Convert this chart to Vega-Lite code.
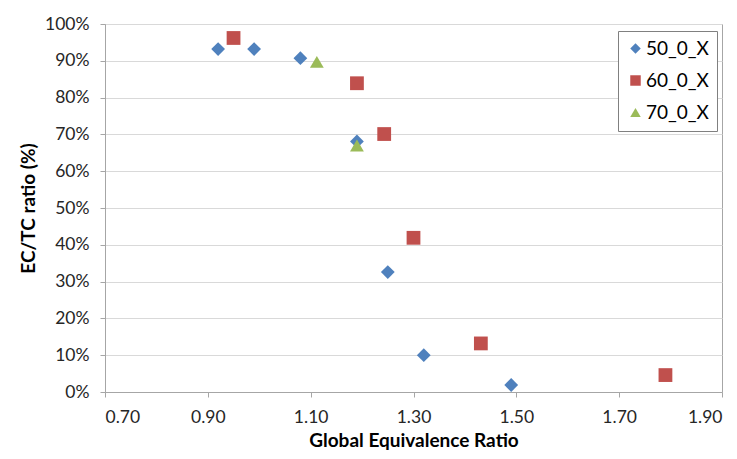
{
  "$schema": "https://vega.github.io/schema/vega-lite/v6.json",
  "width": 617,
  "height": 368,
  "autosize": {"type": "none"},
  "padding": {"left": 105, "top": 24, "right": 15, "bottom": 67},
  "background": "white",
  "config": {
    "font": "Lato",
    "view": {"stroke": "#A6A6A6", "strokeWidth": 1},
    "axis": {
      "labelFont": "Lato",
      "titleFont": "Lato",
      "labelFontSize": 17.5,
      "titleFontSize": 19,
      "titleFontWeight": "bold",
      "labelColor": "#262626",
      "titleColor": "#000000",
      "domainColor": "#A6A6A6",
      "tickColor": "#A6A6A6",
      "gridColor": "#D9D9D9",
      "tickSize": 5
    }
  },
  "data": {
    "values": [
      {"ratio": 0.92, "ectc": 0.932, "series": "50_0_X"},
      {"ratio": 0.99, "ectc": 0.932, "series": "50_0_X"},
      {"ratio": 1.08, "ectc": 0.907, "series": "50_0_X"},
      {"ratio": 1.19, "ectc": 0.681, "series": "50_0_X"},
      {"ratio": 1.25, "ectc": 0.326, "series": "50_0_X"},
      {"ratio": 1.32, "ectc": 0.100, "series": "50_0_X"},
      {"ratio": 1.49, "ectc": 0.019, "series": "50_0_X"},
      {"ratio": 0.95, "ectc": 0.962, "series": "60_0_X"},
      {"ratio": 1.19, "ectc": 0.839, "series": "60_0_X"},
      {"ratio": 1.243, "ectc": 0.701, "series": "60_0_X"},
      {"ratio": 1.30, "ectc": 0.419, "series": "60_0_X"},
      {"ratio": 1.431, "ectc": 0.132, "series": "60_0_X"},
      {"ratio": 1.79, "ectc": 0.046, "series": "60_0_X"},
      {"ratio": 1.112, "ectc": 0.897, "series": "70_0_X"},
      {"ratio": 1.19, "ectc": 0.670, "series": "70_0_X"}
    ]
  },
  "mark": {"type": "point", "filled": true, "opacity": 1, "size": 190},
  "encoding": {
    "x": {
      "field": "ratio",
      "type": "quantitative",
      "scale": {"domain": [0.7, 1.9], "nice": false, "zero": false},
      "axis": {
        "title": "Global Equivalence Ratio",
        "values": [0.7, 0.9, 1.1, 1.3, 1.5, 1.7, 1.9],
        "format": ".2f",
        "grid": false,
        "labelPadding": 11,
        "titlePadding": 6
      }
    },
    "y": {
      "field": "ectc",
      "type": "quantitative",
      "scale": {"domain": [0, 1], "nice": false},
      "axis": {
        "title": "EC/TC ratio (%)",
        "values": [0, 0.1, 0.2, 0.3, 0.4, 0.5, 0.6, 0.7, 0.8, 0.9, 1.0],
        "format": ".0%",
        "grid": true,
        "labelPadding": 11,
        "titlePadding": 6
      }
    },
    "color": {
      "field": "series",
      "type": "nominal",
      "scale": {"domain": ["50_0_X", "60_0_X", "70_0_X"], "range": ["#4F81BD", "#C0504D", "#9BBB59"]},
      "legend": {
        "title": null,
        "orient": "none",
        "legendX": 513,
        "legendY": 7,
        "strokeColor": "#808080",
        "fillColor": "white",
        "padding": 8,
        "labelFontSize": 19,
        "labelFont": "Lato",
        "labelColor": "#000000",
        "labelOffset": 1,
        "symbolSize": 110,
        "rowPadding": 12,
        "symbolOpacity": 1
      }
    },
    "shape": {
      "field": "series",
      "type": "nominal",
      "scale": {"domain": ["50_0_X", "60_0_X", "70_0_X"], "range": ["diamond", "square", "triangle-up"]},
      "legend": null
    }
  }
}
